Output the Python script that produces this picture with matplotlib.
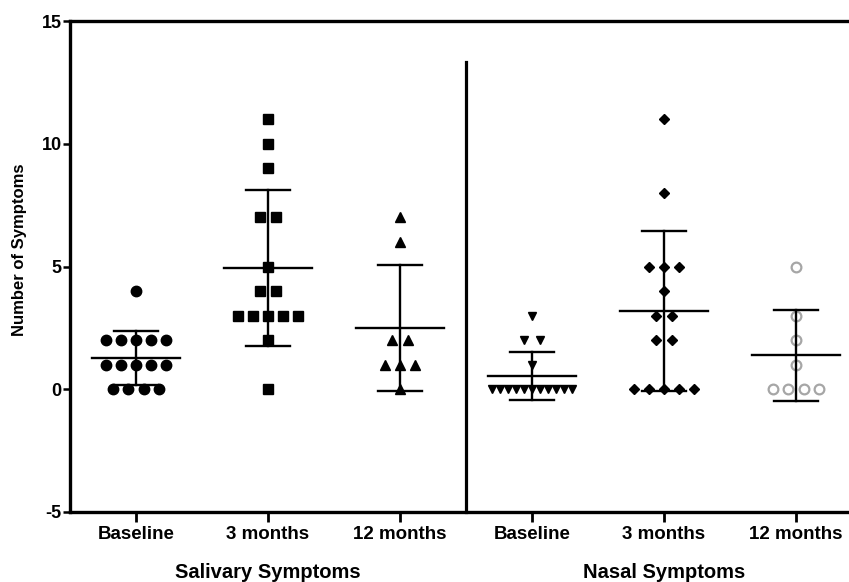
import numpy as np
import matplotlib
matplotlib.use("Agg")
import matplotlib.pyplot as plt

plt.rcParams['font.family'] = ['Liberation Sans', 'DejaVu Sans']
plt.rcParams['font.weight'] = 'bold'

# --- data (number of symptoms per subject) ---
timepoints = ["Baseline", "3 months", "12 months"]
groups = ["Salivary Symptoms", "Nasal Symptoms"]

sal_base = [4, 2, 2, 2, 2, 2, 1, 1, 1, 1, 1, 0, 0, 0, 0]
sal_3m = [11, 10, 9, 7, 7, 5, 4, 4, 3, 3, 3, 3, 3, 2, 0]
sal_12m = [7, 6, 2, 2, 1, 1, 1, 0]
nas_base = [3, 2, 2, 1, 0, 0, 0, 0, 0, 0, 0, 0, 0, 0, 0]
nas_3m = [11, 8, 5, 5, 5, 4, 3, 3, 2, 2, 0, 0, 0, 0, 0]
nas_12m = [5, 3, 2, 1, 0, 0, 0, 0]

series = [sal_base, sal_3m, sal_12m, nas_base, nas_3m, nas_12m]
styles = [
    dict(marker='o', ms=7.5, mfc='black', mec='black'),
    dict(marker='s', ms=7.5, mfc='black', mec='black'),
    dict(marker='^', ms=7.5, mfc='black', mec='black'),
    dict(marker='v', ms=6, mfc='black', mec='black'),
    dict(marker='D', ms=5.5, mfc='black', mec='black'),
    dict(marker='o', ms=7, mfc='none', mec='#a6a6a6', mew=1.6),
]


def spread(values, x0, step=0.114, max_width=0.6):
    # scatter equal values side by side around the column centre
    values = np.asarray(values, dtype=float)
    xs = np.zeros_like(values)
    for v in np.unique(values):
        idx = np.where(values == v)[0]
        k = len(idx)
        s = step if k < 2 else min(step, max_width / (k - 1))
        xs[idx] = x0 + (np.arange(k) - (k - 1) / 2) * s
    return xs


fig = plt.figure(figsize=(8.49, 5.82), dpi=100)
ax = fig.add_axes([70 / 849, 1 - 512 / 582, 779 / 849, 491 / 582])

for i, vals in enumerate(series):
    xs = spread(vals, i)
    ax.plot(xs, vals, linestyle='none', zorder=2, clip_on=False, **styles[i])
    m = np.mean(vals)
    sd = np.std(vals, ddof=1)
    ax.plot([i - 0.33, i + 0.33], [m, m], color='black', lw=1.7, zorder=3)
    ax.plot([i, i], [m - sd, m + sd], color='black', lw=1.7, zorder=3)
    for y in (m - sd, m + sd):
        ax.plot([i - 0.17, i + 0.17], [y, y], color='black', lw=1.7, zorder=3)

# divider between the two groups
ax.plot([2.5, 2.5], [-5, 13.35], color='black', lw=2.3, clip_on=False, zorder=3)

ax.set_xlim(-0.5, -0.5 + 779 / 132)
ax.set_ylim(-5, 15)
ax.set_yticks([-5, 0, 5, 10, 15])
ax.set_xticks(range(6))
ax.set_xticklabels(timepoints * 2, fontsize=13.5, fontweight='bold')
ax.set_yticklabels([str(t) for t in [-5, 0, 5, 10, 15]], fontsize=13, fontweight='bold')

for side in ['left', 'bottom', 'top']:
    ax.spines[side].set_linewidth(2.4)
ax.spines['right'].set_visible(False)
ax.tick_params(axis='y', length=5, width=1.8, pad=1)
ax.tick_params(axis='x', length=7, width=2, pad=3)

ax.set_ylabel("Number of Symptoms", fontsize=12, fontweight='bold')
ax.yaxis.set_label_coords(-0.055, 0.534)

for j, g in enumerate(groups):
    fig.text((136 + 132 + j * 396) / 849, 1 - 573 / 582, g, ha='center', va='center',
             fontsize=14.5, fontweight='bold')

fig.savefig("out.png", dpi=100)
